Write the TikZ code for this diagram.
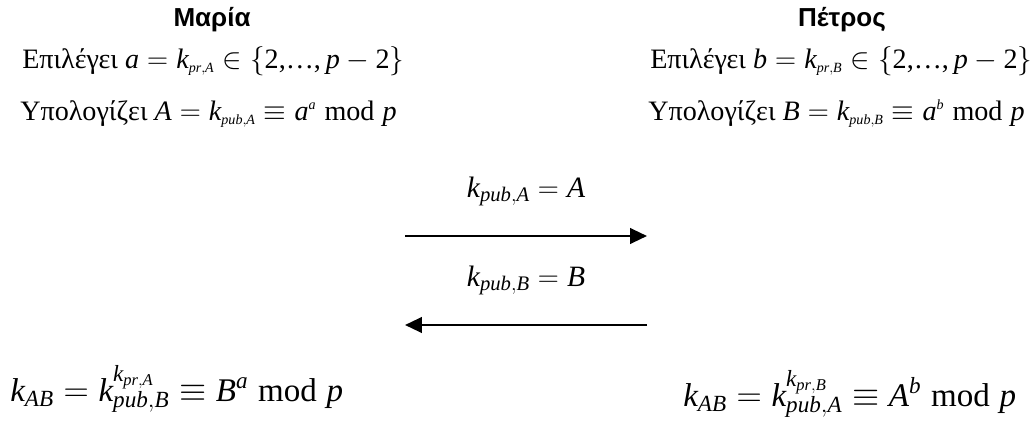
\documentclass[tikz,border=0pt]{standalone}
\usepackage{fontspec}
\setmainfont{Liberation Serif}
\setsansfont{Liberation Sans}
\usetikzlibrary{arrows.meta, positioning}

\newcommand{\iv}[1]{\mathit{#1}}
\newcommand{\ksmall}[2]{\iv{k}_{\scriptscriptstyle\iv{#1},\iv{#2}}}
\newcommand{\ksub}[2]{\iv{k}_{\iv{#1},\iv{#2}}}
\newcommand{\modp}{\;\mbox{mod}\;\iv{p}}
\newcommand{\range}{\bigl\{\mbox{2,…,}\,\iv{p}-\mbox{2}\bigr\}}

\begin{document}
\begin{tikzpicture}[x=0.025cm, y=-0.025cm, node distance=0.55cm]
    \tikzstyle{person} = [font=\sffamily\bfseries\fontsize{18.5}{20}\selectfont, inner sep=0pt, anchor=base]
    \tikzstyle{calc} = [font=\fontsize{20}{22}\selectfont, inner sep=0pt, anchor=base west]
    \tikzstyle{shared} = [font=\fontsize{23.5}{26}\selectfont, inner sep=0pt, anchor=base west]
    \tikzstyle{msgtext} = [font=\fontsize{21}{23}\selectfont, inner sep=0pt]
    \tikzstyle{msg} = [draw, line width=1.7pt, -{Triangle[length=12pt, width=11pt]}]

    \useasboundingbox (0,0) rectangle (1033,421);

    % Maria
    \node [person] (maria) at (212,26) {Μαρία};
    \node [calc] (chooseA) at (22,68) {Επιλέγει\hspace{0.25em}$\iv{a}=\ksmall{pr}{A}\in\range$};
    \node [calc] (pubA) at (20,120) {Υπολογίζει\hspace{0.25em}$\iv{A}=\ksmall{pub}{A}\equiv \iv{a}^{\scriptscriptstyle\iv{a}}\modp$};

    % Petros
    \node [person] (petros) at (842,26) {Πέτρος};
    \node [calc] (chooseB) at (650,68) {Επιλέγει\hspace{0.25em}$\iv{b}=\ksmall{pr}{B}\in\range$};
    \node [calc] (pubB) at (648,120) {Υπολογίζει\hspace{0.25em}$\iv{B}=\ksmall{pub}{B}\equiv \iv{a}^{\scriptscriptstyle\iv{b}}\modp$};

    % exchange
    \coordinate (sendL) at (405,236);
    \coordinate (sendR) at (647,236);
    \coordinate (backR) at (647,325);
    \coordinate (backL) at (405,325);
    \path [msg] (sendL) -- node [msgtext, above=0.72cm] (keyA) {$\ksub{pub}{A}=\iv{A}$} (sendR);
    \path [msg] (backR) -- node [msgtext, above=0.72cm] (keyB) {$\ksub{pub}{B}=\iv{B}$} (backL);

    % shared key
    \node [shared] (sharedA) at (10,401) {$\iv{k}_{\iv{AB}}=\ksub{pub}{B}^{\ksub{pr}{A}}\equiv \iv{B}^{\iv{a}}\modp$};
    \node [shared] (sharedB) at (683,406) {$\iv{k}_{\iv{AB}}=\ksub{pub}{A}^{\ksub{pr}{B}}\equiv \iv{A}^{\iv{b}}\modp$};
\end{tikzpicture}
\end{document}
